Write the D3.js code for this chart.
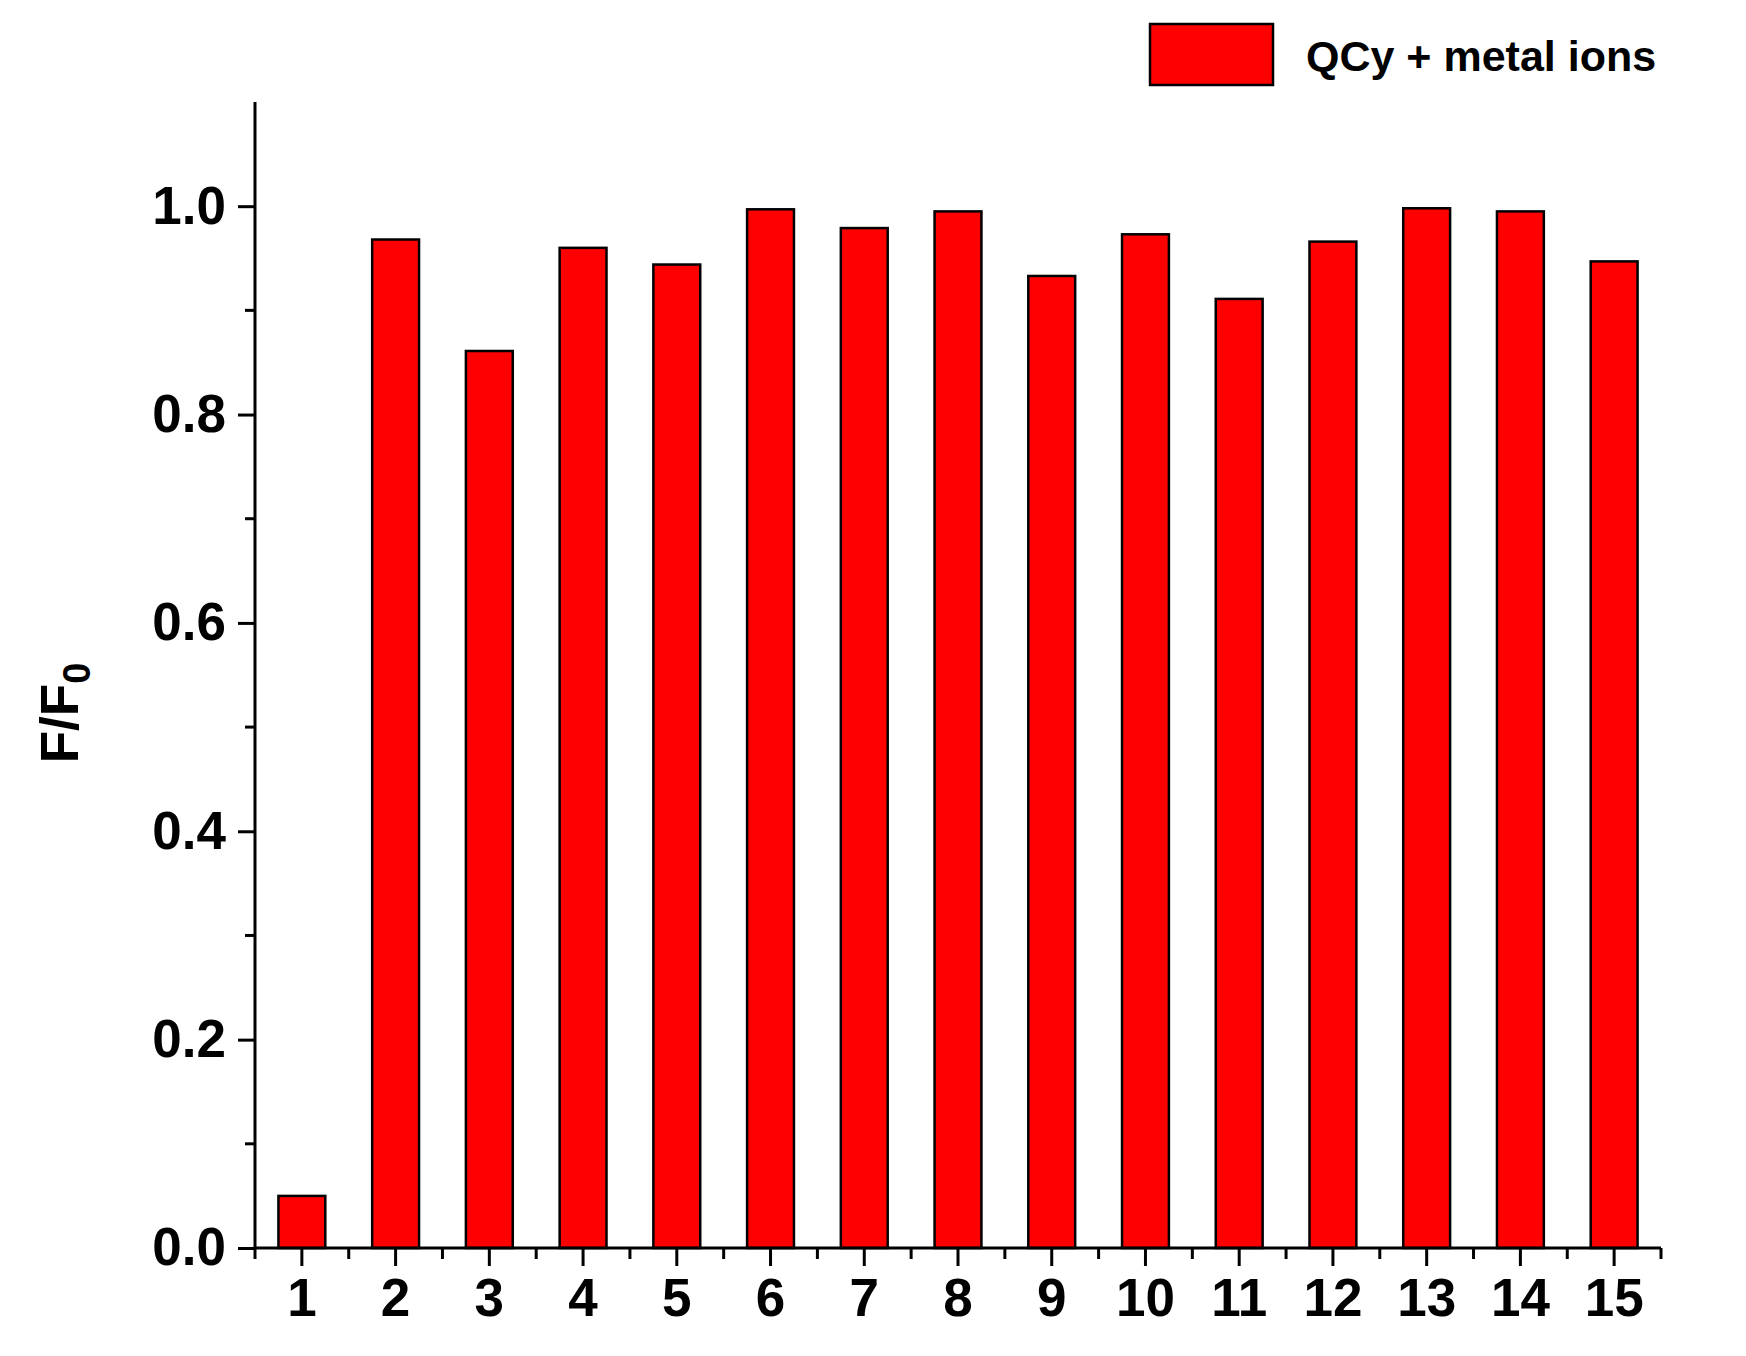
<!DOCTYPE html><html><head><script src="https://d3js.org/d3.v7.min.js"></script>
<style>body{margin:0;background:#fff}</style></head><body><svg id="c" width="1746" height="1356"></svg>
<script>
const categories=["1","2","3","4","5","6","7","8","9","10","11","12","13","14","15"];
const values=[0.050,0.968,0.861,0.960,0.944,0.997,0.979,0.995,0.933,0.973,0.911,0.966,0.998,0.995,0.947];
const yTicks=[0,0.2,0.4,0.6,0.8,1.0];
const seriesName="QCy + metal ions";
const svg=d3.select("#c");
const L=255,R=1661,B=1248,T=102;
const x=d3.scaleBand().domain(categories).range([L,R]).paddingInner(0.5).paddingOuter(0.25);
const y=d3.scaleLinear().domain([0,1.1]).range([B,T]);
const font="Arial, 'Liberation Sans', sans-serif";
svg.selectAll("rect.bar").data(values).enter().append("rect")
 .attr("x",(d,i)=>x(categories[i])).attr("width",x.bandwidth())
 .attr("y",d=>y(d)).attr("height",d=>B-y(d))
 .attr("fill","#ff0000").attr("stroke","#000").attr("stroke-width",2.5);
// y axis
const ya=svg.append("g").attr("transform",`translate(${L},0)`)
 .call(d3.axisLeft(y).tickValues(yTicks).tickFormat(d3.format(".1f")).tickSize(17).tickPadding(12));
ya.select(".domain").attr("stroke-width",3).attr("d",`M0,${T}V${B}`);
ya.selectAll(".tick line").attr("stroke-width",3);
ya.selectAll("text").attr("font-family",font).attr("font-weight","bold").attr("font-size",53);
ya.selectAll(".minor").data(d3.range(1,11,2).map(v=>v/10)).enter().append("line")
 .attr("x1",0).attr("x2",-10).attr("y1",d=>y(d)).attr("y2",d=>y(d)).attr("stroke","#000").attr("stroke-width",3);
// x axis
const xa=svg.append("g").attr("transform",`translate(0,${B})`)
 .call(d3.axisBottom(x).tickSize(18).tickPadding(12));
xa.select(".domain").attr("stroke-width",3).attr("d",`M${L},0H${R}`);
xa.selectAll(".tick line").attr("stroke-width",3);
xa.selectAll("text").attr("font-family",font).attr("font-weight","bold").attr("font-size",53);
const step=x.step();
xa.selectAll(".minor").data(d3.range(0,16)).enter().append("line")
 .attr("x1",i=>L+i*step).attr("x2",i=>L+i*step).attr("y1",0).attr("y2",11).attr("stroke","#000").attr("stroke-width",3);
// y label
const yl=svg.append("text").attr("transform","translate(78,713) rotate(-90)").attr("text-anchor","middle")
 .attr("font-family",font).attr("font-weight","bold").attr("font-size",53);
yl.append("tspan").text("F/F");
yl.append("tspan").text("0").attr("font-size",38).attr("dy",12);
// legend
svg.append("rect").attr("x",1150).attr("y",24).attr("width",123).attr("height",61).attr("fill","#ff0000").attr("stroke","#000").attr("stroke-width",2.5);
svg.append("text").attr("x",1306).attr("y",71).attr("font-family",font).attr("font-weight","bold").attr("font-size",43).text(seriesName);
</script></body></html>
